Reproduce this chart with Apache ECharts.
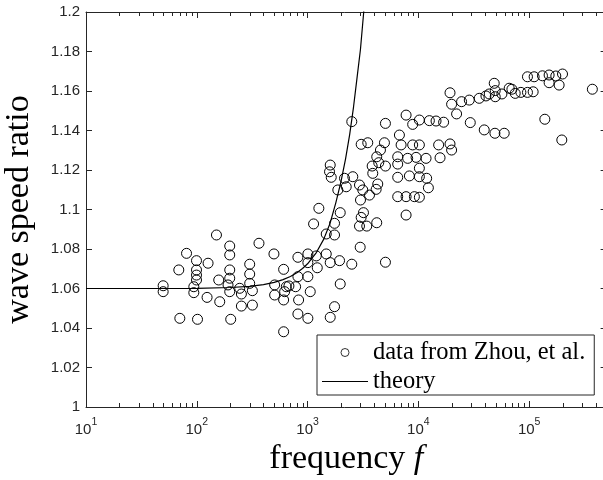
<!DOCTYPE html>
<html>
<head>
<meta charset="utf-8">
<script src="https://cdn.jsdelivr.net/npm/echarts@6/dist/echarts.min.js"></script>
<style>
html,body{margin:0;padding:0;background:#fff;}
#chart{width:603px;height:480px;}
</style>
</head>
<body>
<div id="chart"></div>
<script>
// ---- data ----
var dataFreq = [
 49.7, 49.7, 68.8, 70.3, 80.8, 99.4, 99.4, 99.4, 99.4, 94.0,
 94.0, 101.5, 126.4, 123.8, 150.5, 157.8, 161.1, 198.3, 198.3, 198.3,
 198.3, 191.4, 198.3, 202.4, 244, 252.7, 252.7, 300.3, 300.3, 300.3,
 317.6, 317.6, 364.2, 497, 504.3, 504.3, 607.9, 607.9, 642.9, 607.9,
 620.6, 678.5, 779.8, 817.8, 817.8, 829.8, 817.8, 1006, 1006, 1006,
 1057, 1006, 1133, 1198, 1223, 1264, 1474, 1474, 1601, 1601,
 1751, 1751, 1751, 1943, 1971, 1971, 2506, 2984, 2941, 3046,
 3195, 3003, 3421, 4210, 5043, 7747, 6510, 7747, 9205, 2506,
 5043, 7747, 8884, 3046, 3493, 4940, 6743, 6985, 8884, 4547,
 4210, 6510, 8009, 9535, 4389, 3828, 5043, 6510, 1601, 1578,
 1635, 3876, 2559, 6510, 8297, 10210, 2154, 2232, 1875, 2941,
 3149, 4299, 4159, 3620, 10210, 12566, 14438, 16899, 19303, 19953,
 22130, 24550, 28810, 35440, 40730, 43620, 48380, 49390, 49390, 56770,
 66040, 69860, 74800, 84200, 96540, 108650, 96540, 110900, 131800, 151400,
 174000, 200000, 151400, 186400, 371900, 29410, 39320, 49090, 59540, 138500,
 197100, 10210, 15240, 19303, 19953, 11730, 15690, 10210, 11880, 12310,
 10210
];
var dataRatio = [
 1.0614, 1.0584, 1.0694, 1.0449, 1.0778, 1.0741, 1.0694, 1.0668, 1.0643, 1.0609,
 1.0579, 1.0444, 1.0728, 1.0555, 1.0871, 1.0643, 1.0533, 1.0815, 1.0770, 1.0694,
 1.0652, 1.0618, 1.0584, 1.0444, 1.0601, 1.0572, 1.0511, 1.0723, 1.0673, 1.0626,
 1.0589, 1.0516, 1.0829, 1.0775, 1.0618, 1.0567, 1.0697, 1.0542, 1.0609, 1.0381,
 1.0584, 1.0613, 1.0609, 1.0758, 1.0660, 1.0542, 1.0471, 1.0775, 1.0731, 1.0660,
 1.0584, 1.0449, 1.0927, 1.0765, 1.0705, 1.1006, 1.0876, 1.0775, 1.0731, 1.0454,
 1.0930, 1.0871, 1.0508, 1.0741, 1.0984, 1.0623, 1.0723, 1.0809, 1.0916, 1.0960,
 1.0984, 1.1048, 1.0916, 1.0933, 1.0733, 1.0972, 1.1065, 1.1065, 1.1065, 1.1445,
 1.1436, 1.1478, 1.1431, 1.1330, 1.1338, 1.1338, 1.1377, 1.1327, 1.1327, 1.1301,
 1.1267, 1.1267, 1.1259, 1.1264, 1.1237, 1.1220, 1.1220, 1.1230, 1.1225, 1.1191,
 1.1163, 1.1183, 1.1166, 1.1163, 1.1170, 1.1166, 1.1158, 1.1115, 1.1099, 1.1124,
 1.1099, 1.1129, 1.1102, 1.1073, 1.1453, 1.1450, 1.1448, 1.1442, 1.1591, 1.1533,
 1.1484, 1.1546, 1.1554, 1.1563, 1.1575, 1.1585, 1.1639, 1.1602, 1.1571, 1.1585,
 1.1614, 1.1609, 1.1588, 1.1593, 1.1593, 1.1596, 1.1672, 1.1672, 1.1677, 1.1681,
 1.1676, 1.1686, 1.1642, 1.1630, 1.1609, 1.1440, 1.1403, 1.1386, 1.1386, 1.1457,
 1.1352, 1.1327, 1.1327, 1.1332, 1.1301, 1.1259, 1.1262, 1.1209, 1.1158, 1.1110,
 1.1062
];
var theoryFreq = [10, 100, 200, 300, 400, 500, 600, 700, 800, 900, 1000, 1200, 1400, 1600, 1800, 2000, 2200, 2400, 2600, 2800, 3000, 3200, 3350];
var theoryRatio = [1.0600, 1.0601, 1.0605, 1.0611, 1.0620, 1.0631, 1.0645, 1.0661, 1.0680, 1.0701, 1.0725, 1.0782, 1.0850, 1.0932, 1.1035, 1.1140, 1.1255, 1.1380, 1.1520, 1.1670, 1.1810, 1.1990, 1.2140];
var minorTickValues = [20,30,40,50,60,70,80,90,200,300,400,500,600,700,800,900,2000,3000,4000,5000,6000,7000,8000,9000,20000,30000,40000,50000,60000,70000,80000,90000,200000,300000,400000];
var xMin = 10, xMax = 500000, yMin = 1, yMax = 1.2, yStep = 0.02;
var seriesNames = ['data from Zhou, et al.', 'theory'];

var axisColor = '#262626';
function powLabel(v) {
  var k = Math.log(v) / Math.LN10;
  var r = Math.round(k);
  if (Math.abs(k - r) > 1e-6 || v > xMax * 0.999) return '';
  return '{b|10}{s|' + r + '}';
}

var chart = echarts.init(document.getElementById('chart'), null, {renderer: 'canvas'});
var baseX = {
  type: 'log', logBase: 10, min: xMin, max: xMax,
  axisLine: {show: true, lineStyle: {color: axisColor, width: 1}},
  axisTick: {show: true, inside: true, length: 6, lineStyle: {color: axisColor, width: 1}},
  splitLine: {show: false}
};
var baseY = {
  type: 'value', min: yMin, max: yMax, interval: yStep,
  axisLine: {show: true, onZero: false, lineStyle: {color: axisColor, width: 1}},
  axisTick: {show: true, inside: true, length: 6, lineStyle: {color: axisColor, width: 1}},
  splitLine: {show: false}
};

chart.setOption({
  animation: false,
  backgroundColor: '#fff',
  grid: {left: 86, top: 12, width: 520.6, height: 395, containLabel: false, outerBoundsMode: 'none'},
  xAxis: [
    Object.assign({}, baseX, {
      position: 'bottom',
      axisLabel: {
        show: true, margin: 10, formatter: powLabel,
        rich: {
          b: {fontFamily: 'Liberation Sans', fontSize: 15, color: axisColor, verticalAlign: 'bottom', lineHeight: 20},
          s: {fontFamily: 'Liberation Sans', fontSize: 10.5, color: axisColor, verticalAlign: 'top', lineHeight: 20}
        }
      },
      name: 'frequency {i|f}', nameLocation: 'middle', nameGap: 32,
      nameTextStyle: {
        fontFamily: 'Liberation Serif', fontSize: 34, color: '#000',
        rich: {i: {fontFamily: 'Liberation Serif', fontStyle: 'italic', fontSize: 34, color: '#000'}}
      }
    }),
    Object.assign({}, baseX, {position: 'top', axisLabel: {show: false}})
  ],
  yAxis: [
    Object.assign({}, baseY, {
      position: 'left',
      axisLabel: {show: true, margin: 6, fontFamily: 'Liberation Sans', fontSize: 15, color: axisColor},
      name: 'wave speed ratio', nameLocation: 'middle', nameGap: 50,
      nameTextStyle: {fontFamily: 'Liberation Serif', fontSize: 34, color: '#000'}
    }),
    Object.assign({}, baseY, {position: 'right', axisLabel: {show: false}})
  ],
  legend: {
    show: true, orient: 'vertical', left: 317, top: 335,
    data: [
      {name: seriesNames[0], itemStyle: {color: 'rgba(0,0,0,0)', borderColor: '#000', borderWidth: 0.8}},
      {name: seriesNames[1], icon: 'path://M0 0H46V1H0Z'}
    ],
    selectedMode: false, symbolKeepAspect: true,
    itemWidth: 46, itemHeight: 8, itemGap: 4,
    padding: [5, 9, 1, 5],
    backgroundColor: '#fff', borderColor: axisColor, borderWidth: 1, borderRadius: 0,
    textStyle: {fontFamily: 'Liberation Serif', fontSize: 24.5, color: '#000', lineHeight: 25}
  },
  series: [
    {
      name: seriesNames[1], type: 'line', xAxisIndex: 0, yAxisIndex: 0,
      data: theoryFreq.map(function (f, i) { return [f, theoryRatio[i]]; }),
      symbol: 'none', showSymbol: false, smooth: false, clip: true,
      lineStyle: {color: '#000', width: 1.2},
      itemStyle: {color: '#000'},
      z: 2
    },
    {
      name: seriesNames[0], type: 'scatter', xAxisIndex: 0, yAxisIndex: 0,
      data: dataFreq.map(function (f, i) { return [f, dataRatio[i]]; }),
      symbol: 'circle', symbolSize: 10,
      itemStyle: {color: 'rgba(0,0,0,0)', borderColor: '#000', borderWidth: 1, opacity: 1},
      z: 3
    },
    {
      name: 'minor', type: 'custom', xAxisIndex: 0, yAxisIndex: 0, silent: true,
      data: minorTickValues.map(function (v) { return [v, yMin]; }),
      encode: {x: 0, y: 1},
      renderItem: function (params, api) {
        var v = api.value(0);
        var b = api.coord([v, yMin]);
        var t = api.coord([v, yMax]);
        var x = Math.round(b[0]) + 0.5;
        return {
          type: 'group',
          children: [
            {type: 'line', shape: {x1: x, y1: b[1], x2: x, y2: b[1] - 4}, style: {stroke: axisColor, lineWidth: 1}},
            {type: 'line', shape: {x1: x, y1: t[1], x2: x, y2: t[1] + 4}, style: {stroke: axisColor, lineWidth: 1}}
          ]
        };
      },
      z: 5
    }
  ]
});
</script>
</body>
</html>
